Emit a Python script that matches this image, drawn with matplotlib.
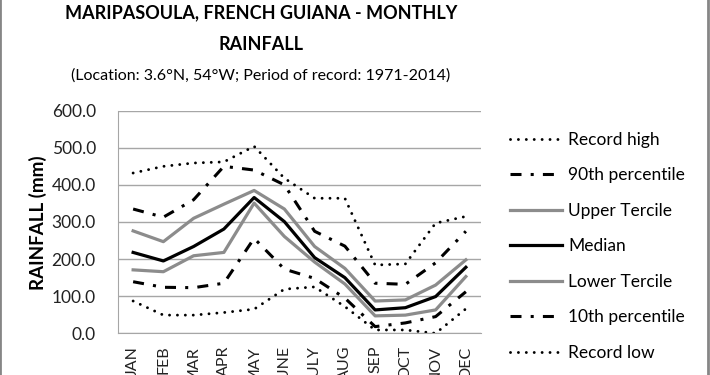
import matplotlib
matplotlib.use('Agg')
from matplotlib import pyplot as plt
from matplotlib.patches import Rectangle

plt.rcParams['font.family'] = ['Lato', 'DejaVu Sans']

months = ['JAN', 'FEB', 'MAR', 'APR', 'MAY', 'JUNE', 'JULY', 'AUG', 'SEP', 'OCT', 'NOV', 'DEC']

record_high = [432, 450, 459, 462, 504, 418, 364, 364, 184, 187, 297, 315]
p90 = [335, 313, 360, 450, 440, 400, 275, 235, 135, 132, 190, 275]
upper_tercile = [276, 247, 310, 348, 385, 335, 234, 175, 87, 90, 130, 198]
median = [218, 195, 234, 281, 366, 301, 204, 150, 63, 69, 99, 178]
lower_tercile = [171, 166, 209, 218, 351, 261, 192, 133, 47, 49, 63, 153]
p10 = [139, 124, 123, 135, 256, 173, 148, 95, 18, 28, 45, 112]
record_low = [87, 49, 49, 56, 65, 119, 125, 72, 9, 9, 0, 66]

grey = '#8c8c8c'
dotted = (0, (0.01, 2.7))
dashdot = (0, (3.6, 3, 1, 3))

fig = plt.figure(figsize=(7.1, 3.75), dpi=100)
ax = fig.add_axes([118 / 710, 1 - 333.3 / 375, (481 - 118) / 710, (333.3 - 110.7) / 375])

x = range(len(months))
ax.plot(x, record_high, color='black', lw=2.1, ls=dotted, dash_capstyle='round', label='Record high')
ax.plot(x, p90, color='black', lw=2.2, ls=dashdot, dash_capstyle='butt', label='90th percentile')
ax.plot(x, upper_tercile, color=grey, lw=2.3, label='Upper Tercile')
ax.plot(x, median, color='black', lw=2.3, label='Median')
ax.plot(x, lower_tercile, color=grey, lw=2.3, label='Lower Tercile')
ax.plot(x, p10, color='black', lw=2.2, ls=dashdot, dash_capstyle='butt', label='10th percentile')
ax.plot(x, record_low, color='black', lw=2.1, ls=dotted, dash_capstyle='round', label='Record low')

ax.set_xlim(-0.5, 11.5)
ax.set_ylim(0, 600)
ax.set_yticks(range(0, 601, 100))
ax.set_yticklabels(['%.1f' % v for v in range(0, 601, 100)], fontsize=12.5, color='#222222')
ax.set_xticks(list(x))
ax.set_xticklabels(months, rotation=90, fontsize=11.5, color='#222222', va='top')
ax.tick_params(length=0)
ax.tick_params(axis='x', pad=9)
ax.tick_params(axis='y', pad=16)
ax.grid(axis='y', color='#a6a6a6', lw=1)
ax.set_axisbelow(True)
for s in ['top', 'right']:
    ax.spines[s].set_visible(False)
ax.spines['left'].set_color('#a6a6a6')
ax.spines['bottom'].set_color('#a6a6a6')

fig.text(38 / 710, 1 - 223 / 375, 'RAINFALL (mm)', rotation=90, fontsize=13.5, fontweight='bold',
         ha='center', va='center')

tx = 261 / 710
fig.text(tx, 1 - 18 / 375, 'MARIPASOULA, FRENCH GUIANA - MONTHLY', fontsize=13, fontweight='bold',
         ha='center', va='baseline')
fig.text(tx, 1 - 50 / 375, 'RAINFALL', fontsize=13, fontweight='bold', ha='center', va='baseline')
fig.text(tx, 1 - 80 / 375, '(Location: 3.6°N, 54°W; Period of record: 1971-2014)', fontsize=11.5,
         ha='center', va='baseline')

fig.legend(loc='upper left', bbox_to_anchor=(510 / 710, 1 - 132 / 375), frameon=False, fontsize=12.5,
           borderpad=0, borderaxespad=0, handlelength=3.0, handletextpad=0.35, labelspacing=1.12)

fig.patches.append(Rectangle((0.0, -0.1), 708 / 710, 1.2, transform=fig.transFigure, fill=False,
                             edgecolor='#868686', lw=2))

fig.savefig('out.png', dpi=100)
